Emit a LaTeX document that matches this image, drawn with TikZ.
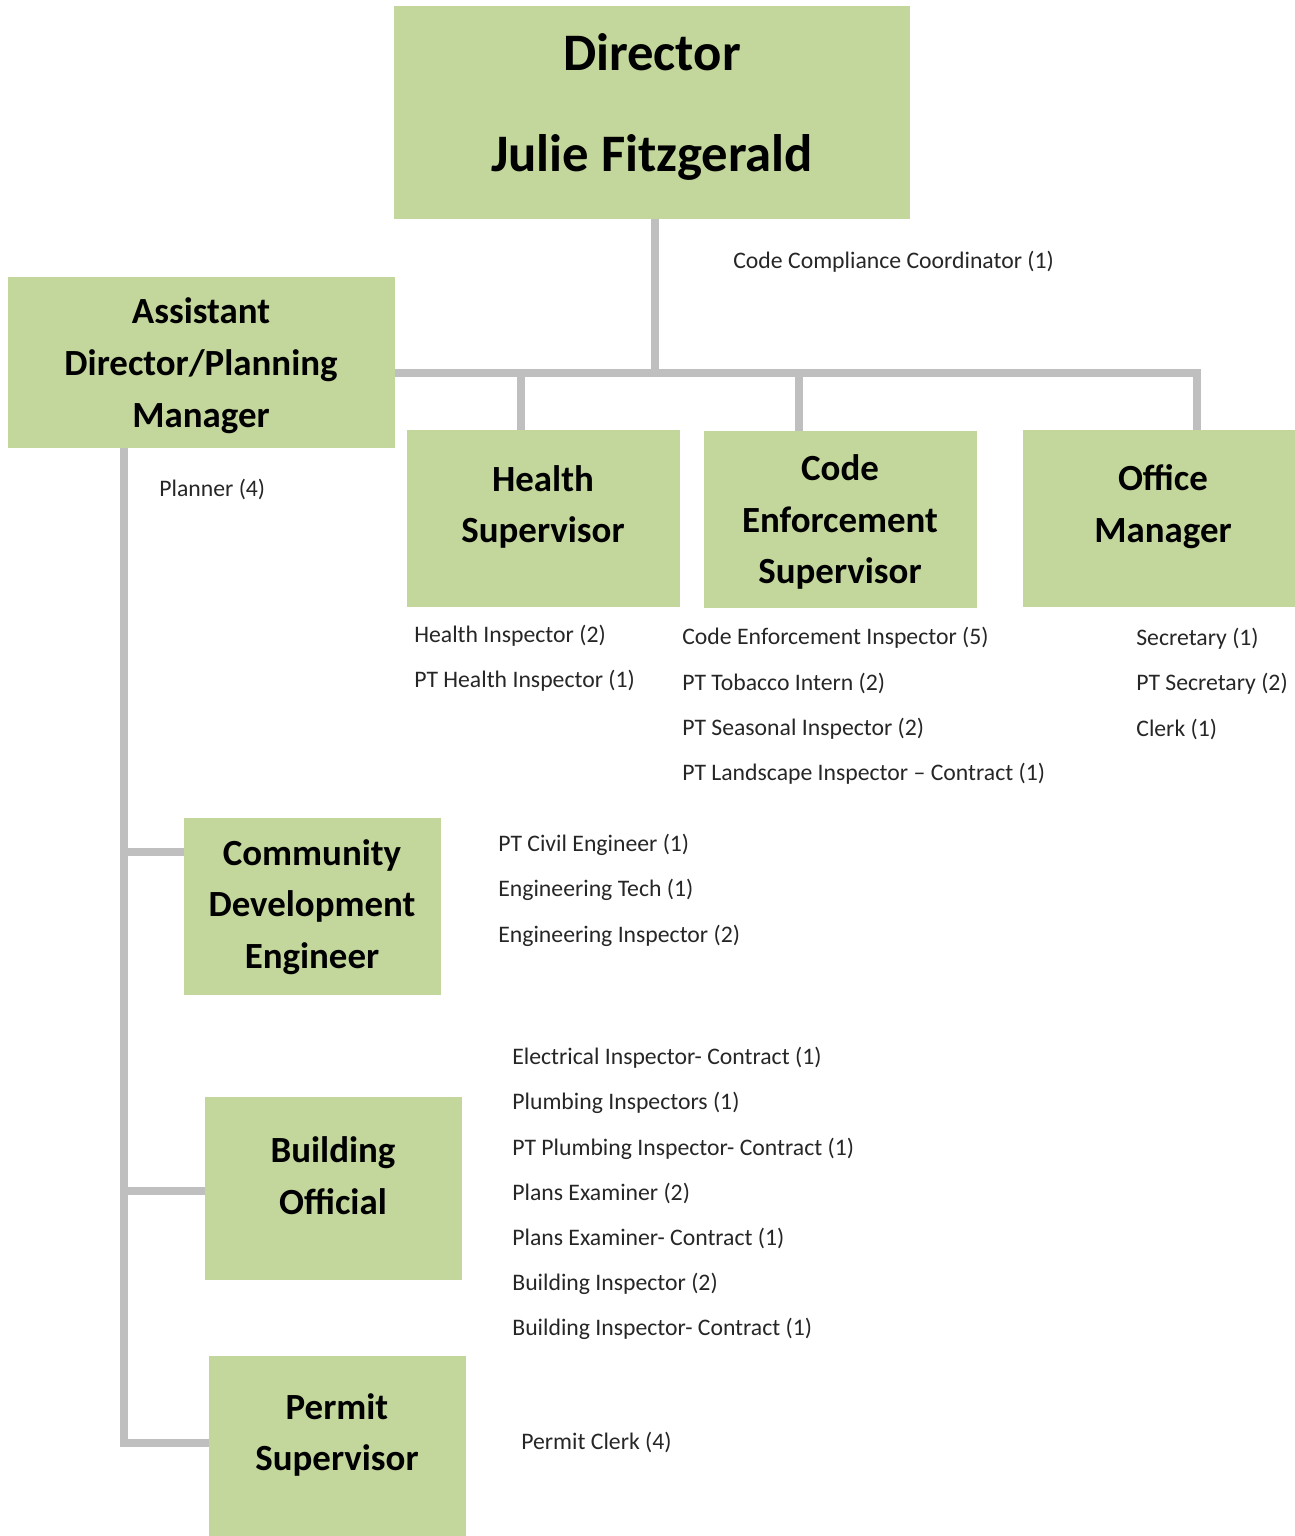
\documentclass[tikz,border=0pt]{standalone}
\usepackage{fontspec}
\setmainfont{Carlito}
\definecolor{boxgreen}{HTML}{C3D69B}
\definecolor{linegray}{HTML}{BFBFBF}
\tikzset{
	box/.style={fill=boxgreen, draw=none, inner sep=0pt},
	title/.style={align=center, inner sep=0pt, font=\bfseries\fontsize{21}{29.5}\selectfont},
	staff/.style={anchor=west, inner sep=0pt, text=black!85, font=\fontsize{13.5}{16}\selectfont},
	link/.style={draw=linegray, line width=0.15cm, line join=miter}
}
\newcommand{\drawbox}[5]{
	\pgfmathsetmacro{\bw}{(#4-#2)*0.02}
	\pgfmathsetmacro{\bh}{(#5-#3)*0.02}
	\node[box, minimum width=\bw cm, minimum height=\bh cm] (#1) at ({(#2+#4)/2},{(#3+#5)/2}) {};
}
\newcommand{\drawstaff}[4]{
	\foreach \t [count=\i] in {#4} {
		\node[staff] (#1-\i) at (#2,{#3+45.2*(\i-1)}) {\t};
	}
}

\begin{document}
\begin{tikzpicture}[x=0.02cm,y=-0.02cm]
	\useasboundingbox (0,0) rectangle (1295,1536);
	% boxes
	\drawbox{dir}{394}{6}{910}{219}
	\drawbox{asst}{8}{277}{395}{448}
	\drawbox{hs}{407}{430}{680}{607}
	\drawbox{ce}{704}{431}{977}{608}
	\drawbox{om}{1023}{430}{1295}{607}
	\drawbox{cde}{184}{818}{441}{995}
	\drawbox{bo}{205}{1097}{462}{1280}
	\drawbox{ps}{209}{1356}{466}{1536}

	\node[title, font=\bfseries\fontsize{30}{57}\selectfont] (dir-t) at (652,107) {Director\\Julie Fitzgerald};
	\node[title] (asst-t) at (201,366) {Assistant\\Director/Planning\\Manager};
	\node[title] (hs-t) at (543,507) {Health\\Supervisor};
	\node[title] (ce-t) at (840,522) {Code\\Enforcement\\Supervisor};
	\node[title] (om-t) at (1163,507) {Office\\Manager};
	\node[title] (cde-t) at (312,907) {Community\\Development\\Engineer};
	\node[title] (bo-t) at (333,1176) {Building\\Official};
	\node[title] (ps-t) at (337,1435) {Permit\\Supervisor};

	% connectors
	\coordinate (hub) at (655,373);
	\coordinate (hsj) at (521,373);
	\coordinate (cej) at (799,373);
	\coordinate (omj) at (1197,373);
	\coordinate (spine) at (124,1443);
	\coordinate (cdej) at (124,852);
	\coordinate (boj) at (124,1191);
	\draw[link] (hub |- dir.south) -- (hub);
	\draw[link] (asst.east |- hub) -- (omj) -- (omj |- om.north);
	\draw[link] (hsj) -- (hsj |- hs.north);
	\draw[link] (cej) -- (cej |- ce.north);
	\draw[link] (spine |- asst.south) -- (spine) -- (spine -| ps.west);
	\draw[link] (cdej) -- (cdej -| cde.west);
	\draw[link] (boj) -- (boj -| bo.west);

	% staff
	\drawstaff{dir-s}{733}{262}{Code Compliance Coordinator (1)}
	\drawstaff{asst-s}{159}{489}{Planner (4)}
	\drawstaff{hs-s}{414}{636}{Health Inspector (2), PT Health Inspector (1)}
	\drawstaff{ce-s}{682}{638}{Code Enforcement Inspector (5), PT Tobacco Intern (2), PT Seasonal Inspector (2), PT Landscape Inspector -- Contract (1)}
	\drawstaff{om-s}{1136}{639}{Secretary (1), PT Secretary (2), Clerk (1)}
	\drawstaff{cde-s}{498}{845}{PT Civil Engineer (1), Engineering Tech (1), Engineering Inspector (2)}
	\drawstaff{bo-s}{512}{1058}{Electrical Inspector- Contract (1), Plumbing Inspectors (1), PT Plumbing Inspector- Contract (1), Plans Examiner (2), Plans Examiner- Contract (1), Building Inspector (2), Building Inspector- Contract (1)}
	\drawstaff{ps-s}{521}{1442}{Permit Clerk (4)}
\end{tikzpicture}
\end{document}
